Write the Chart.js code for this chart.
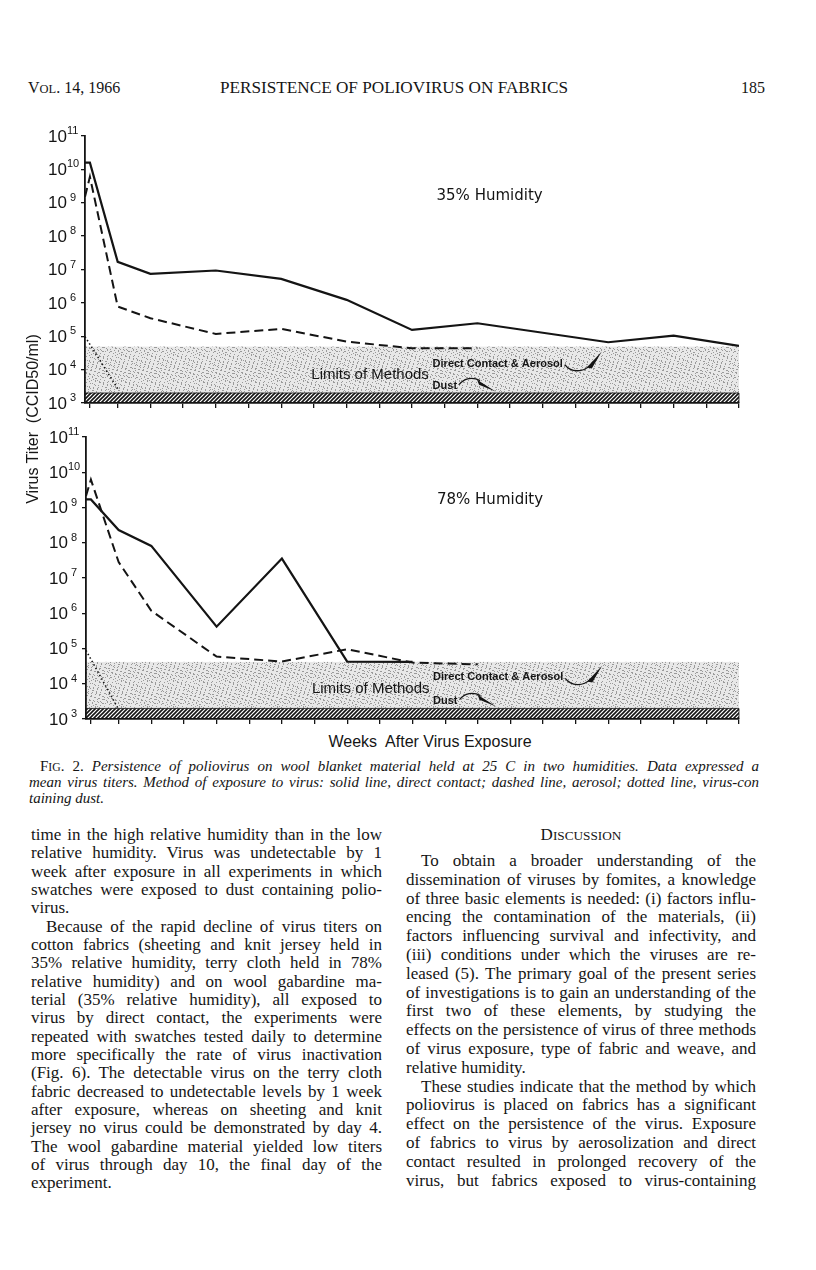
<!DOCTYPE html>
<html>
<head>
<meta charset="utf-8">
<title>Persistence of poliovirus on fabrics</title>
<script src="https://cdn.jsdelivr.net/npm/chart.js@4.4.1/dist/chart.umd.min.js"></script>
<style>
html, body { margin: 0; padding: 0; background: #fff; }
#page { position: relative; width: 816px; height: 1270px; overflow: hidden; color: #151515;
        font-family: "Liberation Serif", "Times New Roman", serif; }
.t { position: absolute; white-space: nowrap; }
.chartbox { position: absolute; left: 0; width: 816px; }
.sans { font-family: "Liberation Sans", Arial, sans-serif; }
.sc { font-size: 0.78em; }
</style>
</head>
<body>
<div id="page">
  <div class="t" style="left:28px;top:79px;font-size:16px;line-height:18px">V<span class="sc">OL</span>. 14, 1966</div>
  <div class="t" id="runhead" style="left:220px;top:79px;font-size:16px;line-height:18px;transform-origin:0 0">PERSISTENCE OF POLIOVIRUS ON FABRICS</div>
  <div class="t" style="left:705px;width:60px;text-align:right;top:79px;font-size:16px;line-height:18px">185</div>

  <div class="chartbox" style="top:120px;height:300px"><canvas id="chart35" width="816" height="300"></canvas></div>
  <div class="chartbox" style="top:420px;height:310px"><canvas id="chart78" width="816" height="310"></canvas></div>

  <div class="t sans" style="left:-77px;top:409px;width:220px;height:20px;line-height:20px;font-size:16px;text-align:center;transform:rotate(-90deg)">Virus Titer&nbsp;&nbsp;(CCID50/ml)</div>
  <div class="t sans" style="left:280px;top:733px;width:300px;line-height:18px;font-size:16px;text-align:center">Weeks&nbsp; After Virus Exposure</div>
</div>

<script>
// x axis (weeks after exposure); "2hr" sits just right of the origin
const weekTicks = [0.15, 1, 2, 3, 4, 5, 6, 7, 8, 9, 10, 11, 12, 13, 14, 15, 16, 17, 18, 19, 20];
const weekTickLabels = ['2hr', '1', '2', '3', '4', '5', '6', '7', '8', '9', '10',
                        '11', '12', '13', '14', '15', '16', '17', '18', '19', '20'];
// y axis decades (10^3 .. 10^11)
const decades = [3, 4, 5, 6, 7, 8, 9, 10, 11];

// 35% humidity, titers as log10 CCID50/ml
const weeks35Contact = [0, 0.15, 1, 2, 4, 6, 8, 10, 12, 16, 18, 20];
const titer35Contact = [10.2, 10.2, 7.23, 6.87, 6.97, 6.72, 6.09, 5.19, 5.39, 4.82, 5.02, 4.71];
const weeks35Aerosol = [0, 0.15, 1, 2, 4, 6, 8, 10, 12];
const titer35Aerosol = [9.18, 9.78, 5.89, 5.54, 5.07, 5.22, 4.84, 4.64, 4.64];
const weeks35Dust = [0, 1];
const titer35Dust = [4.99, 3.43];

// 78% humidity
const weeks78Contact = [0, 0.15, 1, 2, 4, 6, 8, 10];
const titer78Contact = [9.23, 9.23, 8.36, 7.91, 5.62, 7.55, 4.63, 4.62];
const weeks78Aerosol = [0, 0.15, 1, 2, 4, 6, 8, 10, 12];
const titer78Aerosol = [9.33, 9.79, 7.45, 6.07, 4.77, 4.63, 4.98, 4.60, 4.55];
const weeks78Dust = [0, 1];
const titer78Dust = [4.95, 3.27];

// detection limits (log10)
const limitTop35 = 4.69;
const limitTop78 = 4.62;
const hatchTop = 3.3;

const INK = '#141414';

// textures for the "limits of methods" band
function makeStipple() {
    const c = document.createElement('canvas');
    c.width = 26; c.height = 26;
    const g = c.getContext('2d');
    g.fillStyle = '#e8e8e8';
    g.fillRect(0, 0, 26, 26);
    g.fillStyle = '#9a9a9a';
    for (let y = 0; y < 26; y++) {
        for (let x = 0; x < 26; x++) {
            if ((x * 7 + y * 11) % 13 === 0 || (x * 3 + y * 5) % 17 === 0 || (x * 5 + y * 2) % 19 === 0) g.fillRect(x, y, 1, 1);
        }
    }
    return c;
}
function makeHatch() {
    const c = document.createElement('canvas');
    c.width = 4; c.height = 4;
    const g = c.getContext('2d');
    g.strokeStyle = INK;
    g.lineWidth = 1.6;
    g.beginPath();
    g.moveTo(-1, 5); g.lineTo(5, -1);
    g.moveTo(-1, 1); g.lineTo(1, -1);
    g.moveTo(3, 5); g.lineTo(5, 3);
    g.stroke();
    return c;
}
const stipple = makeStipple();
const hatch = makeHatch();

function arrowDirect(ctx, x, y) {
    ctx.lineWidth = 1.3;
    ctx.beginPath();
    ctx.moveTo(x + 2, y + 1);
    ctx.bezierCurveTo(x + 8, y + 9, x + 20, y + 9, x + 27, y + 2);
    ctx.stroke();
    ctx.beginPath();
    ctx.moveTo(x + 24, y + 4);
    ctx.lineTo(x + 39, y - 12);
    ctx.lineTo(x + 29, y + 5);
    ctx.closePath();
    ctx.fill();
}
function arrowDust(ctx, x, y) {
    ctx.lineWidth = 1.3;
    ctx.beginPath();
    ctx.moveTo(x + 2, y - 1);
    ctx.bezierCurveTo(x + 7, y - 8, x + 16, y - 9, x + 23, y - 5);
    ctx.stroke();
    ctx.beginPath();
    ctx.moveTo(x + 20, y - 6);
    ctx.lineTo(x + 39, y + 6);
    ctx.lineTo(x + 22, y - 1);
    ctx.closePath();
    ctx.fill();
}

const figurePlugin = {
    id: 'figure',
    beforeDraw(chart, args, opts) {
        const { ctx, scales: { x, y } } = chart;
        const xl = x.getPixelForValue(0), xr = x.getPixelForValue(20);
        const yLim = y.getPixelForValue(Math.pow(10, opts.limitTop));
        const yHat = y.getPixelForValue(Math.pow(10, hatchTop));
        const yBase = y.getPixelForValue(1e3);
        ctx.save();
        ctx.fillStyle = ctx.createPattern(stipple, 'repeat');
        ctx.fillRect(xl, yLim, xr - xl, yHat - yLim);
        ctx.fillStyle = ctx.createPattern(hatch, 'repeat');
        ctx.fillRect(xl, yHat, xr - xl, yBase - yHat);
        ctx.strokeStyle = INK;
        ctx.lineWidth = 0.8;
        ctx.beginPath();
        ctx.moveTo(xl, yHat); ctx.lineTo(xr, yHat);
        ctx.moveTo(xr, yHat); ctx.lineTo(xr, yBase);
        ctx.stroke();
        ctx.restore();
    },
    afterDraw(chart, args, opts) {
        const { ctx, chartArea: a, scales: { x, y } } = chart;
        const px = w => x.getPixelForValue(w);
        const py = e => y.getPixelForValue(Math.pow(10, e));
        ctx.save();
        ctx.fillStyle = INK;
        ctx.strokeStyle = INK;
        ctx.textBaseline = 'middle';
        ctx.textAlign = 'left';

        // y tick labels: 10 with a raised exponent
        decades.forEach(e => {
            const ty = py(e);
            const lx = a.left - 37;
            ctx.font = '17px "Liberation Sans"';
            ctx.fillText('10', lx, ty + 1);
            const w = ctx.measureText('10').width;
            ctx.font = '11px "Liberation Sans"';
            ctx.fillText(String(e), lx + w + (e < 10 ? 3 : 0), ty - 5);
        });

        ctx.font = '15px "DejaVu Sans"';
        ctx.fillText(opts.title, px(10.75), py(9.2));

        ctx.font = '15px "Liberation Sans"';
        ctx.fillText('Limits of Methods', px(6.92), py(3.85));

        ctx.font = 'bold 11px "Liberation Sans"';
        const dx = px(10.63), dy = py(4.18);
        ctx.fillText('Direct Contact & Aerosol', dx, dy);
        arrowDirect(ctx, dx + ctx.measureText('Direct Contact & Aerosol').width, dy);
        const ux = px(10.63), uy = py(3.52);
        ctx.fillText('Dust', ux, uy);
        arrowDust(ctx, ux + ctx.measureText('Dust').width, uy);
        ctx.restore();
    }
};

function series(weeks, titer, width, dash) {
    return {
        data: weeks.map((w, i) => ({ x: w, y: Math.pow(10, titer[i]) })),
        borderColor: INK,
        borderWidth: width,
        borderDash: dash,
        pointRadius: 0,
        tension: 0,
        fill: false
    };
}

function makeChart(id, datasets, pad, notes, showLabels) {
    return new Chart(document.getElementById(id), {
        type: 'line',
        data: { datasets: datasets },
        options: {
            responsive: false,
            animation: false,
            events: [],
            layout: { padding: pad },
            plugins: { legend: { display: false }, tooltip: { enabled: false }, figure: notes },
            scales: {
                x: {
                    type: 'linear', min: 0, max: 20,
                    afterBuildTicks: sc => { sc.ticks = weekTicks.map(v => ({ value: v })); },
                    afterFit: sc => { sc.height = 0; },
                    grid: { drawOnChartArea: false, drawTicks: true, tickLength: 5, color: INK, lineWidth: 1.3 },
                    border: { display: true, color: INK, width: 1.8 },
                    ticks: {
                        display: showLabels, autoSkip: false, maxRotation: 0, padding: 2, color: INK,
                        font: { family: 'Liberation Sans', size: 16 },
                        callback: (v, i) => weekTickLabels[i]
                    }
                },
                y: {
                    type: 'logarithmic', min: 1e3, max: 1e11,
                    afterBuildTicks: sc => { sc.ticks = decades.map(e => ({ value: Math.pow(10, e) })); },
                    afterFit: sc => { sc.width = 0; },
                    grid: { drawOnChartArea: false, drawTicks: true, tickLength: 4, color: INK, lineWidth: 1.3 },
                    border: { display: true, color: INK, width: 1.8 },
                    ticks: { display: false }
                }
            }
        },
        plugins: [figurePlugin]
    });
}

makeChart('chart35', [
    series(weeks35Contact, titer35Contact, 2.2, []),
    series(weeks35Aerosol, titer35Aerosol, 2.0, [9, 5]),
    series(weeks35Dust, titer35Dust, 1.6, [1.5, 2.5])
], { left: 85, right: 77, top: 16, bottom: 17 }, { title: '35% Humidity', limitTop: limitTop35 }, false);

makeChart('chart78', [
    series(weeks78Contact, titer78Contact, 2.2, []),
    series(weeks78Aerosol, titer78Aerosol, 2.0, [9, 5]),
    series(weeks78Dust, titer78Dust, 1.6, [1.5, 2.5])
], { left: 86, right: 77, top: 17, bottom: 11 }, { title: '78% Humidity', limitTop: limitTop78 }, true);

// ---- page text ----
const page = document.getElementById('page');

function setLines(lines, o) {
    lines.forEach((ln, i) => {
        const d = document.createElement('div');
        d.className = 't';
        d.style.font = o.font;
        d.style.lineHeight = '20px';
        d.innerHTML = ln.html || ln.t;
        const left = o.left + (ln.indent ? o.indent : 0);
        d.style.left = left + 'px';
        d.style.top = (o.top + i * o.step) + 'px';
        page.appendChild(d);
        if (!ln.last) {
            const nat = d.getBoundingClientRect().width;
            const gaps = (d.textContent.match(/ /g) || []).length;
            if (gaps) d.style.wordSpacing = ((o.right - left - nat) / gaps) + 'px';
        }
    });
}

const rh = document.getElementById('runhead');
rh.style.transform = 'scaleX(' + (348 / rh.getBoundingClientRect().width) + ')';

setLines([
    { html: '<span style="font-style:normal">F<span class="sc">IG</span>. 2.</span> Persistence of poliovirus on wool blanket material held at 25 C in two humidities. Data expressed a' },
    { t: 'mean virus titers. Method of exposure to virus: solid line, direct contact; dashed line, aerosol; dotted line, virus-con' },
    { t: 'taining dust.', last: true }
].map((l, i) => Object.assign(l, { indent: i === 0 })),
{ font: 'italic 15px "Liberation Serif"', left: 29, indent: 11, right: 759, top: 756, step: 16 });

setLines([
    { t: 'time in the high relative humidity than in the low' },
    { t: 'relative humidity. Virus was undetectable by 1' },
    { t: 'week after exposure in all experiments in which' },
    { t: 'swatches were exposed to dust containing polio-' },
    { t: 'virus.', last: true },
    { t: 'Because of the rapid decline of virus titers on', indent: true },
    { t: 'cotton fabrics (sheeting and knit jersey held in' },
    { t: '35% relative humidity, terry cloth held in 78%' },
    { t: 'relative humidity) and on wool gabardine ma-' },
    { t: 'terial (35% relative humidity), all exposed to' },
    { t: 'virus by direct contact, the experiments were' },
    { t: 'repeated with swatches tested daily to determine' },
    { t: 'more specifically the rate of virus inactivation' },
    { t: '(Fig. 6). The detectable virus on the terry cloth' },
    { t: 'fabric decreased to undetectable levels by 1 week' },
    { t: 'after exposure, whereas on sheeting and knit' },
    { t: 'jersey no virus could be demonstrated by day 4.' },
    { t: 'The wool gabardine material yielded low titers' },
    { t: 'of virus through day 10, the final day of the' },
    { t: 'experiment.', last: true }
], { font: '17px "Liberation Serif"', left: 31, indent: 15, right: 382, top: 825, step: 18.34 });

const disc = document.createElement('div');
disc.className = 't';
disc.style.cssText = 'left:406px;width:350px;text-align:center;top:825px;font-size:17px;line-height:20px';
disc.innerHTML = 'D<span class="sc">ISCUSSION</span>';
page.appendChild(disc);

setLines([
    { t: 'To obtain a broader understanding of the', indent: true },
    { t: 'dissemination of viruses by fomites, a knowledge' },
    { t: 'of three basic elements is needed: (i) factors influ-' },
    { t: 'encing the contamination of the materials, (ii)' },
    { t: 'factors influencing survival and infectivity, and' },
    { t: '(iii) conditions under which the viruses are re-' },
    { t: 'leased (5). The primary goal of the present series' },
    { t: 'of investigations is to gain an understanding of the' },
    { t: 'first two of these elements, by studying the' },
    { t: 'effects on the persistence of virus of three methods' },
    { t: 'of virus exposure, type of fabric and weave, and' },
    { t: 'relative humidity.', last: true },
    { t: 'These studies indicate that the method by which', indent: true },
    { t: 'poliovirus is placed on fabrics has a significant' },
    { t: 'effect on the persistence of the virus. Exposure' },
    { t: 'of fabrics to virus by aerosolization and direct' },
    { t: 'contact resulted in prolonged recovery of the' },
    { t: 'virus, but fabrics exposed to virus-containing' }
], { font: '17px "Liberation Serif"', left: 406, indent: 15, right: 756, top: 851, step: 18.8 });
</script>
</body>
</html>
